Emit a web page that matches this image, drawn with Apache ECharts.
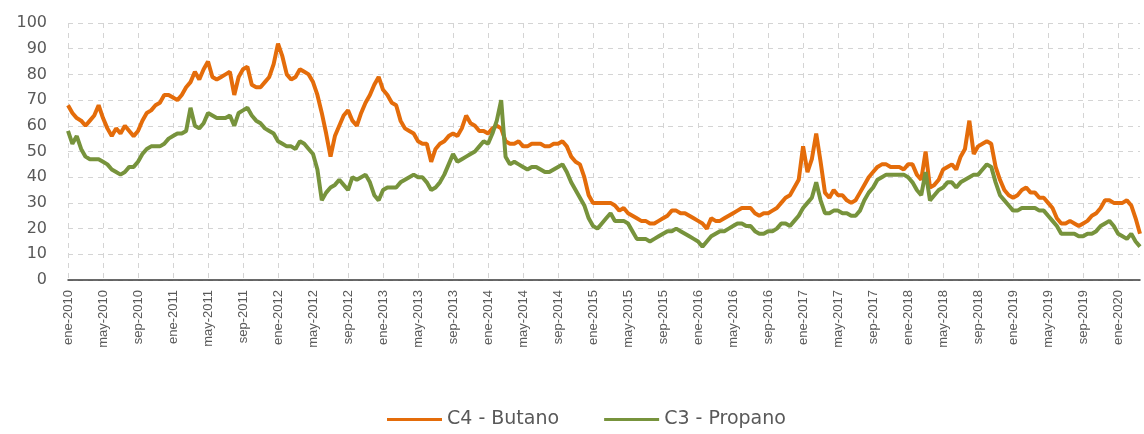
<!DOCTYPE html>
<html lang="es">
<head>
    <meta charset="UTF-8">
    <title>Butano y Propano</title>
    <script type="text/javascript" src="https://cdn.jsdelivr.net/npm/echarts@6/dist/echarts.min.js"></script>
</head>
<body style="margin:0;background:#fff">
<div id="precios" style="width:1144px;height:434px"></div>
<script type="text/javascript">
    // meses para las etiquetas del eje x
    var meses = ['ene', 'feb', 'mar', 'abr', 'may', 'jun', 'jul', 'ago', 'sep', 'oct', 'nov', 'dic'];
    var anioInicio = 2010;

    // valores quincenales, desde ene-2010 hasta mediados de mar-2020
    var butano = [
        68, 65, 63, 62, 60, 62, 64, 68, 63, 59, 56, 59, 57, 60, 58, 56, 58, 62, 65, 66, 68, 69, 72, 72,
        71, 70, 72, 75, 77, 81, 78, 82, 85, 79, 78, 79, 80, 81, 72, 79, 82, 83, 76, 75, 75, 77, 79, 84,
        92, 87, 80, 78, 79, 82, 81, 80, 77, 72, 65, 57, 48, 56, 60, 64, 66, 62, 60, 65, 69, 72, 76, 79,
        74, 72, 69, 68, 62, 59, 58, 57, 54, 53, 53, 46, 51, 53, 54, 56, 57, 56, 59, 64, 61, 60, 58, 58,
        57, 59, 60, 59, 54, 53, 53, 54, 52, 52, 53, 53, 53, 52, 52, 53, 53, 54, 52, 48, 46, 45, 40, 33,
        30, 30, 30, 30, 30, 29, 27, 28, 26, 25, 24, 23, 23, 22, 22, 23, 24, 25, 27, 27, 26, 26, 25, 24,
        23, 22, 20, 24, 23, 23, 24, 25, 26, 27, 28, 28, 28, 26, 25, 26, 26, 27, 28, 30, 32, 33, 36, 39,
        52, 42, 47, 57, 46, 34, 32, 35, 33, 33, 31, 30, 31, 34, 37, 40, 42, 44, 45, 45, 44, 44, 44, 43,
        45, 45, 41, 39, 50, 36, 37, 39, 43, 44, 45, 43, 48, 51, 62, 49, 52, 53, 54, 53, 44, 39, 35, 33,
        32, 33, 35, 36, 34, 34, 32, 32, 30, 28, 24, 22, 22, 23, 22, 21, 22, 23, 25, 26, 28, 31, 31, 30,
        30, 30, 31, 29, 24, 18
    ];
    var propano = [
        58, 53, 56, 51, 48, 47, 47, 47, 46, 45, 43, 42, 41, 42, 44, 44, 46, 49, 51, 52, 52, 52, 53, 55,
        56, 57, 57, 58, 67, 60, 59, 61, 65, 64, 63, 63, 63, 64, 60, 65, 66, 67, 64, 62, 61, 59, 58, 57,
        54, 53, 52, 52, 51, 54, 53, 51, 49, 43, 31, 34, 36, 37, 39, 37, 35, 40, 39, 40, 41, 38, 33, 31,
        35, 36, 36, 36, 38, 39, 40, 41, 40, 40, 38, 35, 36, 38, 41, 45, 49, 46, 47, 48, 49, 50, 52, 54,
        53, 57, 62, 70, 48, 45, 46, 45, 44, 43, 44, 44, 43, 42, 42, 43, 44, 45, 42, 38, 35, 32, 29, 24,
        21, 20, 22, 24, 26, 23, 23, 23, 22, 19, 16, 16, 16, 15, 16, 17, 18, 19, 19, 20, 19, 18, 17, 16,
        15, 13, 15, 17, 18, 19, 19, 20, 21, 22, 22, 21, 21, 19, 18, 18, 19, 19, 20, 22, 22, 21, 23, 25,
        28, 30, 32, 38, 31, 26, 26, 27, 27, 26, 26, 25, 25, 27, 31, 34, 36, 39, 40, 41, 41, 41, 41, 41,
        40, 38, 35, 33, 42, 31, 33, 35, 36, 38, 38, 36, 38, 39, 40, 41, 41, 43, 45, 44, 38, 33, 31, 29,
        27, 27, 28, 28, 28, 28, 27, 27, 25, 23, 21, 18, 18, 18, 18, 17, 17, 18, 18, 19, 21, 22, 23, 21,
        18, 17, 16, 18, 15, 13
    ];

    // fechas de cada punto (dos por mes)
    var fechas = [];
    for (var i = 0; i < butano.length; i++) {
        var m = Math.floor(i / 2);
        var anio = anioInicio + Math.floor(m / 12);
        fechas.push(meses[m % 12] + '-' + anio + (i % 2 ? '-b' : ''));
    }

    var grafico = echarts.init(document.getElementById('precios'));
    grafico.setOption({
        animation: false,
        grid: {left: 68, right: 4, top: 23, bottom: 154},
        legend: {
            bottom: 0,
            left: 382,
            icon: 'rect',
            itemWidth: 55,
            itemHeight: 3,
            itemGap: 45,
            textStyle: {color: '#595959', fontSize: 19, fontFamily: 'DejaVu Sans'},
            data: ['C4 - Butano', 'C3 - Propano']
        },
        xAxis: {
            type: 'category',
            boundaryGap: false,
            data: fechas,
            axisLine: {lineStyle: {color: '#3a3a3a', width: 1.5}},
            axisTick: {show: false},
            axisLabel: {
                interval: 7,
                rotate: 90,
                margin: 10,
                color: '#595959',
                fontSize: 13,
                fontFamily: 'Liberation Sans',
                formatter: function (v) { return v.replace('-b', ''); }
            },
            splitLine: {show: true, interval: 7, lineStyle: {color: '#d4d4d4', type: [5, 5]}}
        },
        yAxis: {
            type: 'value',
            min: 0,
            max: 100,
            interval: 10,
            axisLine: {show: false},
            axisTick: {show: false},
            axisLabel: {color: '#595959', fontSize: 16, fontFamily: 'DejaVu Sans', margin: 21},
            splitLine: {lineStyle: {color: '#d4d4d4', type: [5, 5]}}
        },
        series: [
            {
                name: 'C4 - Butano',
                type: 'line',
                data: butano,
                symbol: 'none',
                color: '#e46c0a',
                lineStyle: {width: 4, color: '#e46c0a'}
            },
            {
                name: 'C3 - Propano',
                type: 'line',
                data: propano,
                symbol: 'none',
                color: '#77933c',
                lineStyle: {width: 4, color: '#77933c'}
            }
        ]
    });
</script>
</body>
</html>
